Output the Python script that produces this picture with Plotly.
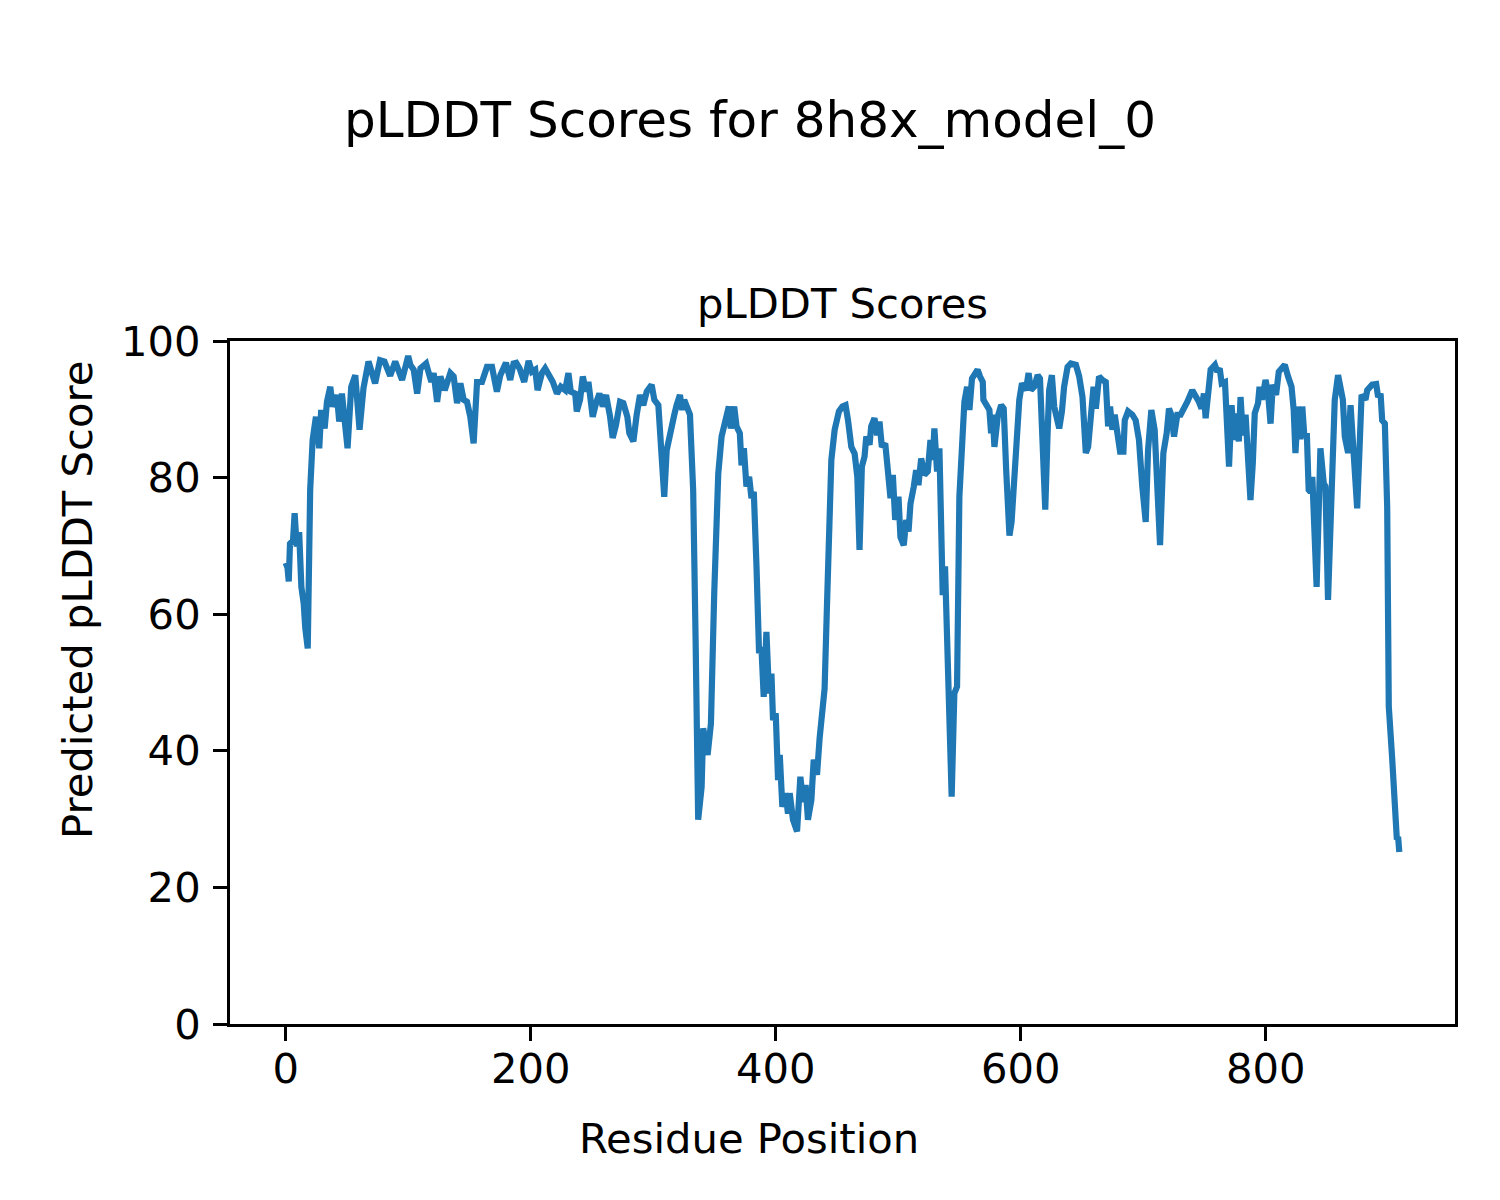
import plotly.graph_objects as go

residue = [0, 1.5, 2.5, 3.5, 6, 7.3, 9, 11, 12.8, 14.7, 16, 18, 20, 22, 24.7, 27.4, 29, 31.8, 33.7, 36.4,
           38.3, 41.8, 43.7, 45.9, 50.5, 53.5, 56.8, 60.3, 63.5, 67.6, 73, 77, 80.6, 85.3, 89.4, 95, 100,
           101.8, 104.5, 107.3, 110, 114.6, 118.9, 120.8, 123.6, 126.3, 129.8, 134.4, 137.1, 139.9, 142.6,
           145.3, 148, 150.7, 153.4, 156.2, 160.2, 164.3, 168.4, 172.4, 175.2, 179.8, 183.3, 186, 188.2,
           190.9, 194.7, 198.3, 201, 203.7, 205.6, 209.2, 211.8, 215.4, 218.1, 221.4, 224.6, 228.1, 230.8,
           232.7, 236.3, 237.6, 240.3, 242.5, 245.2, 247.1, 250.6, 253.3, 256.1, 258.8, 261.5, 264.8, 266.9,
           269.6, 272.9, 275.6, 278.9, 280.5, 283.8, 286.5, 289.2, 291.9, 294.7, 298.7, 300.9, 304.2, 306.9,
           309, 311, 312.8, 315, 317.2, 319.1, 321.8, 323.7, 325.3, 330, 332.6, 334.6, 336.7, 339.5, 340.8,
           344.4, 347.1, 349.8, 353.1, 355.8, 358.5, 361.7, 363.3, 366.1, 368, 370.7, 372.1, 374, 376.1,
           378.3, 380.2, 382.1, 384.3, 386.4, 388.3, 390.2, 392.4, 394.5, 396.5, 397.8, 400, 401.9, 403.3,
           405.4, 408.1, 410, 411.4, 414.1, 417.4, 420.1, 422.3, 424.4, 426.3, 429.1, 431, 433.7, 435.8,
           438, 439.9, 441.8, 443.5, 445.4, 448.1, 451.6, 454.4, 457, 459, 461.7, 464.4, 466.6, 468.4,
           470.3, 472.5, 473.9, 476.6, 477.9, 480.6, 482.8, 484.7, 486.6, 489.4, 491.5, 493.7, 495.6, 497.5,
           500.2, 501.8, 504.5, 506.5, 508.4, 510, 512.7, 514.6, 516.5, 518.7, 521.4, 524.1, 526.3, 528.2,
           529.5, 531.7, 533.6, 535.5, 536.3, 538.2, 540.4, 543.6, 545.8, 548, 549.9, 551.8, 554, 556.2,
           558.1, 560.2, 562.9, 564.8, 566.8, 569, 569.5, 572.2, 574.4, 575.8, 577.1, 578.5, 581.2, 584,
           586.1, 588.1, 590.8, 592.5, 594.7, 596, 597.4, 598.8, 601, 604.2, 606.4, 608.3, 611, 613.8,
           615.7, 617.3, 620, 621.9, 623.2, 625.4, 627.3, 629.2, 631.4, 633.6, 635.4, 638.2, 640.9, 645,
           647.7, 650.4, 653.1, 655, 657.2, 659.4, 661.3, 663.9, 666.6, 669.4, 671.3, 672.9, 674.8, 676.7,
           678.9, 681.1, 683.8, 684.9, 687.6, 691.1, 693.8, 696.5, 699.2, 702, 703.9, 706.6, 709.3, 711.5,
           713.7, 716.4, 719.1, 721, 722.9, 725.1, 727.8, 730.5, 732.7, 736, 740, 742.7, 745.4, 747.6,
           749.5, 750.9, 753, 755, 758.5, 760.4, 762.4, 764, 766.7, 767.7, 770, 772.1, 774, 775.8, 778,
           779.4, 781.3, 783.5, 785.6, 787.5, 789.4, 791, 793.7, 794.9, 797, 799.8, 801.9, 803.9, 805.7,
           808.4, 810.6, 813.3, 815.5, 818.2, 821, 822.8, 824.2, 826.4, 828.3, 829.8, 831.5, 833.5, 835,
           836.5, 838, 841.5, 844.6, 847.3, 848.7, 850.8, 853.6, 856.3, 859, 861, 862.9, 864.5, 867.2,
           869.2, 871.1, 872.7, 874.6, 876.8, 878.2, 881.4, 882.8, 886.8, 890.1, 891.7, 893.7, 895, 897.2,
           899.1, 900.4, 903.1, 905.8, 907, 908, 909]

plddt = [67.5, 66.8, 64.8, 70.3, 70.8, 74.8, 69.9, 72.0, 64.0, 61.6, 58.0, 55.0, 78.2, 85.5, 88.9, 84.3, 89.9,
         87.2, 91.1, 93.3, 90.4, 92.1, 88.2, 92.3, 84.3, 93.3, 95.0, 87.0, 93.1, 97.0, 93.8, 97.2, 97.0, 94.9,
         97.0, 94.3, 97.8, 96.5, 95.8, 92.3, 96.0, 96.7, 94.0, 95.3, 91.1, 94.8, 92.8, 95.3, 94.8, 90.9, 93.8,
         91.4, 91.1, 88.9, 85.0, 94.0, 94.0, 96.2, 96.2, 92.6, 95.0, 96.8, 94.3, 96.7, 96.8, 96.0, 94.0, 97.1,
         95.5, 95.8, 92.8, 95.3, 96.0, 94.8, 94.0, 92.3, 93.3, 92.8, 95.3, 92.6, 92.3, 89.7, 91.4, 94.8, 92.6,
         94.0, 88.9, 90.9, 92.3, 90.4, 92.1, 88.9, 85.8, 87.7, 91.1, 90.9, 88.9, 86.5, 85.3, 89.2, 92.1, 90.6,
         92.6, 93.6, 91.4, 90.6, 84.0, 77.2, 84.0, 85.5, 88.4, 89.2, 90.6, 92.1, 89.9, 91.4, 89.2, 78.2, 56.2,
         29.9, 34.7, 43.3, 39.4, 44.0, 63.1, 80.6, 86.0, 88.4, 90.4, 87.2, 90.4, 87.5, 86.5, 81.8, 84.3, 78.7,
         80.1, 77.0, 77.9, 67.0, 54.3, 55.2, 47.9, 57.4, 48.4, 51.3, 44.5, 45.5, 35.7, 39.4, 31.8, 33.8, 30.8,
         33.8, 29.9, 28.2, 36.2, 32.5, 35.0, 29.9, 32.8, 38.7, 36.5, 41.8, 46.0, 49.1, 61.1, 75.3, 82.6, 87.0,
         89.7, 90.4, 90.6, 88.4, 84.5, 83.5, 80.1, 69.4, 81.6, 83.1, 86.0, 84.8, 87.5, 88.7, 86.2, 88.2, 84.5,
         85.0, 80.1, 77.0, 80.4, 73.8, 77.2, 71.3, 70.1, 73.8, 72.1, 76.2, 78.7, 81.1, 78.9, 82.8, 80.4, 80.9,
         85.5, 82.6, 87.2, 80.9, 84.3, 67.0, 62.8, 67.0, 50.9, 33.3, 48.4, 49.4, 77.2, 84.0, 91.1, 93.3, 89.9,
         94.5, 95.3, 95.8, 94.8, 94.0, 91.4, 90.4, 89.9, 86.5, 89.2, 84.5, 88.9, 90.6, 90.1, 81.1, 71.5, 73.5,
         80.6, 83.6, 86.0, 91.4, 93.8, 92.8, 95.3, 92.8, 93.3, 95.0, 94.5, 87.5, 75.3, 86.5, 92.8, 95.0, 90.4,
         88.9, 87.2, 89.7, 93.3, 96.2, 96.7, 96.5, 94.8, 91.8, 83.6, 84.5, 89.9, 93.3, 90.1, 94.8, 94.3, 94.0,
         87.5, 90.4, 87.0, 89.2, 86.5, 83.8, 83.8, 88.4, 89.7, 89.2, 88.4, 85.5, 78.7, 73.5, 84.0, 89.9, 87.0,
         77.7, 70.1, 83.6, 86.5, 90.1, 89.2, 86.0, 89.2, 89.2, 89.9, 91.1, 92.8, 92.1, 91.1, 90.1, 92.3, 88.7,
         93.8, 95.8, 96.5, 95.5, 96.0, 93.8, 94.0, 90.4, 81.6, 90.6, 85.5, 89.4, 85.3, 91.8, 86.2, 89.2, 81.6,
         76.7, 82.1, 89.4, 90.9, 93.3, 91.4, 94.3, 92.3, 87.9, 93.6, 92.1, 95.5, 96.0, 96.5, 94.8, 93.3, 89.9,
         83.6, 90.4, 85.6, 90.4, 86.0, 86.5, 78.2, 77.9, 80.1, 64.0, 84.3, 79.2, 78.7, 62.1, 78.2, 91.4, 95.0,
         92.8, 91.4, 86.0, 83.6, 90.6, 85.5, 80.6, 75.5, 85.5, 92.1, 91.4, 92.8, 93.6, 93.7, 91.8, 92.3, 88.4,
         87.9, 75.7, 46.5, 39.1, 29.4, 27.0, 27.4, 25.2]

x_ticks = [0, 200, 400, 600, 800]
y_ticks = [0, 20, 40, 60, 80, 100]

FONT = "DejaVu Sans"

fig = go.Figure()
fig.add_trace(go.Scatter(x=residue, y=plddt, mode="lines",
                         line=dict(color="#1f77b4", width=6.2), showlegend=False))

# target plot area: x 230..1455 px, y 341..1024 px (page body adds ~8px offset)
OFF = 8
L, R, T, B = 230, 1455, 341, 1024
W, H = R - L, B - T

def px(xp):
    return (xp - L) / W

def py(yp):
    return (B - yp) / H

fig.add_annotation(text="pLDDT Scores for 8h8x_model_0", xref="paper", yref="paper",
                   x=px(750), y=py(120), showarrow=False, xanchor="center", yanchor="middle",
                   font=dict(family=FONT, size=50, color="black"))
fig.add_annotation(text="pLDDT Scores", xref="paper", yref="paper",
                   x=0.5, y=py(303), showarrow=False, xanchor="center", yanchor="middle",
                   font=dict(family=FONT, size=41.7, color="black"))
fig.add_annotation(text="Residue Position", xref="paper", yref="paper",
                   x=px(749), y=py(1138), showarrow=False, xanchor="center", yanchor="middle",
                   font=dict(family=FONT, size=41.7, color="black"))
fig.add_annotation(text="Predicted pLDDT Score", xref="paper", yref="paper",
                   x=px(77), y=py(600), showarrow=False, xanchor="center", yanchor="middle",
                   textangle=-90, font=dict(family=FONT, size=41.7, color="black"))

axis_common = dict(showline=True, mirror=True, linecolor="black", linewidth=3,
                   ticks="outside", ticklen=14, tickwidth=3, tickcolor="black",
                   showgrid=False, zeroline=False,
                   tickfont=dict(family=FONT, size=41.7, color="black"))

fig.update_xaxes(range=[-45.45, 954.45], tickvals=x_ticks, ticktext=[str(v) for v in x_ticks],
                 ticklabelstandoff=-8, **axis_common)
fig.update_yaxes(range=[0, 100], tickvals=y_ticks, ticktext=[str(v) for v in y_ticks],
                 ticklabelstandoff=4, **axis_common)

fig.update_layout(width=1500, height=1200, plot_bgcolor="white", paper_bgcolor="white",
                  margin=dict(l=L - OFF, r=1500 - (L - OFF) - W, t=T - OFF, b=1200 - (T - OFF) - H,
                              autoexpand=False),
                  font=dict(family=FONT, color="black"))

fig.write_html("out.html")
